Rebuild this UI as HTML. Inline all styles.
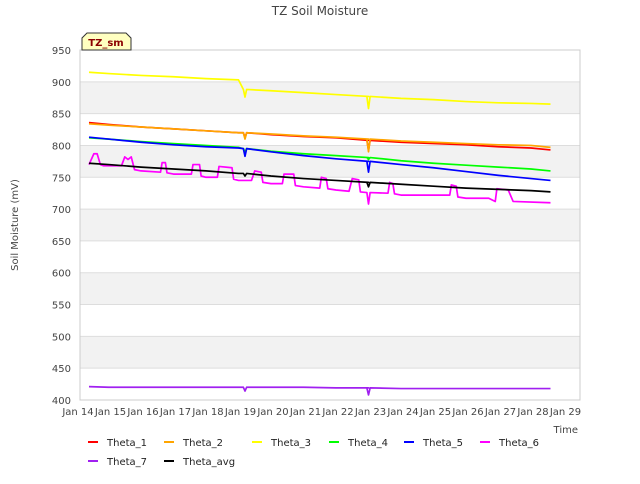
<!DOCTYPE html>
<html><head><meta charset="utf-8"><style>
body{margin:0;background:#fff;font-family:"DejaVu Sans",sans-serif;}
svg text{font-family:"DejaVu Sans","Liberation Sans",sans-serif;}
</style></head><body>
<svg id="c" width="640" height="480" xmlns="http://www.w3.org/2000/svg">
<text x="320" y="15" text-anchor="middle" font-size="12" fill="#444">TZ Soil Moisture</text>
<text transform="translate(18,225) rotate(-90)" text-anchor="middle" font-size="10" fill="#444">Soil Moisture (mV)</text>
<text x="578" y="433" text-anchor="end" font-size="10" fill="#444">Time</text>
<g id="grid"></g><g id="series"></g><g id="axes"></g><g id="legend"></g>
<g>
<path d="M82,50 L82,38 L87,33 L126,33 L131,38 L131,50 Z" fill="#ffffc0" stroke="#333" stroke-width="1"/>
<text x="106" y="46" text-anchor="middle" font-size="10" font-weight="bold" fill="#8b0000">TZ_sm</text>
</g>
</svg>
<script>
const yTicks=[400,450,500,550,600,650,700,750,800,850,900,950];
const xTickLabels=["Jan 14","Jan 15","Jan 16","Jan 17","Jan 18","Jan 19","Jan 20","Jan 21","Jan 22","Jan 23","Jan 24","Jan 25","Jan 26","Jan 27","Jan 28","Jan 29"];
const seriesNames=["Theta_1","Theta_2","Theta_3","Theta_4","Theta_5","Theta_6","Theta_7","Theta_avg"];
const seriesColors=["#ff0000","#ffa500","#ffff00","#00ff00","#0000ff","#ff00ff","#a020f0","#000000"];
const t_main=[0.4,1,2,3,4,5,5.15,5.2,5.25,6,7,8,9,8.95,9.0,9.05,10,11,12,13,14,14.6];
const theta1=[836,833,829,826,823,820,820,812,820,817,814,812,808,808,793,808,805,803,801,798,796,793];
const theta2=[834,832,829,826,823,820,820,810,820,818,815,813,810,810,790,810,807,805,803,801,800,797];
const theta3=[915,913,910,908,905,903,888,876,888,886,883,880,877,877,858,877,874,872,869,867,866,865];
const theta4=[812,810,806,803,800,797,795,790,795,791,787,784,781,781,778,781,776,772,769,766,763,760];
const theta5=[813,810,805,801,798,796,795,783,795,790,784,779,775,775,758,775,770,765,759,753,748,745];
const theta7=[421,420,420,420,420,420,420,414,420,420,420,419,419,419,408,419,418,418,418,418,418,418];
const thetaAvg=[772,770,766,763,760,756,756,752,756,752,748,745,742,742,735,742,739,736,733,731,729,727];
const t6=[0.4,0.55,0.65,0.75,0.85,1.4,1.5,1.6,1.7,1.8,2.0,2.6,2.65,2.75,2.8,3.0,3.55,3.6,3.8,3.85,4.0,4.35,4.4,4.8,4.85,5.0,5.4,5.5,5.7,5.75,6.0,6.35,6.4,6.7,6.75,7.0,7.5,7.55,7.7,7.75,8.0,8.4,8.5,8.7,8.75,8.95,9.0,9.05,9.6,9.65,9.75,9.8,10.0,11.5,11.55,11.7,11.75,12.0,12.7,12.9,12.95,13.3,13.45,14.6];
const theta6=[770,787,787,770,768,768,782,778,782,762,760,758,773,773,757,755,755,770,770,752,750,750,767,765,747,745,745,760,758,742,740,740,755,755,737,735,733,750,748,732,730,728,748,746,727,726,708,726,725,742,740,724,722,722,738,736,719,717,717,712,732,730,712,710];
const X0=76,DX=32.5,Y0=400,SY=350/550;
const xs=d=>X0+d*DX, ys=v=>Y0-(v-400)*SY;
const NS="http://www.w3.org/2000/svg";
function mk(tag,attrs,parent){const e=document.createElementNS(NS,tag);for(const k in attrs)e.setAttribute(k,attrs[k]);parent.appendChild(e);return e;}
const grid=document.getElementById('grid'),axes=document.getElementById('axes'),ser=document.getElementById('series'),leg=document.getElementById('legend');
for(let i=0;i<yTicks.length-1;i++){
 if(yTicks[i]%100===50){const r=mk('rect',{x:80,y:ys(yTicks[i+1]),width:500,height:ys(yTicks[i])-ys(yTicks[i+1]),fill:'#f2f2f2'},grid);
 
 }
}
yTicks.forEach(v=>{const l=mk('line',{x1:80,x2:580,y1:ys(v),y2:ys(v),stroke:'#ddd','stroke-width':1},grid);
 
 
 const t=mk('text',{x:71,y:ys(v)+4,'text-anchor':'end','font-size':10,fill:'#444'},axes);t.textContent=v;
 
 });
const fr=mk('rect',{x:80,y:50,width:500,height:350,fill:'none',stroke:'#ccc'},axes);


xTickLabels.forEach((s,i)=>{const t=mk('text',{x:xs(i)+2,y:415,'text-anchor':'middle','font-size':10,fill:'#444'},axes);t.textContent=s;
 
 });
const data=[[t_main,theta1],[t_main,theta2],[t_main,theta3],[t_main,theta4],[t_main,theta5],[t6,theta6],[t_main,theta7],[t_main,thetaAvg]];
const order=[2,0,1,3,4,5,6,7];
order.forEach(i=>{const [t,v]=data[i];
 const p=mk('polyline',{points:t.map((d,j)=>xs(d)+','+ys(v[j])).join(' '),fill:'none',stroke:seriesColors[i],'stroke-width':1.7,'stroke-linejoin':'round'},ser);
 
 });
const legX=[88,164,252,329,404,480,88,164];
seriesNames.forEach((n,i)=>{const y=i<6?442:461;
 const g=mk('g',{},leg);
 
 
 mk('line',{x1:legX[i],x2:legX[i]+10,y1:y,y2:y,stroke:seriesColors[i],'stroke-width':2},g);
 const t=mk('text',{x:legX[i]+19,y:y+4,'font-size':10,fill:'#222'},g);t.textContent=n;});
</script>
</body></html>
